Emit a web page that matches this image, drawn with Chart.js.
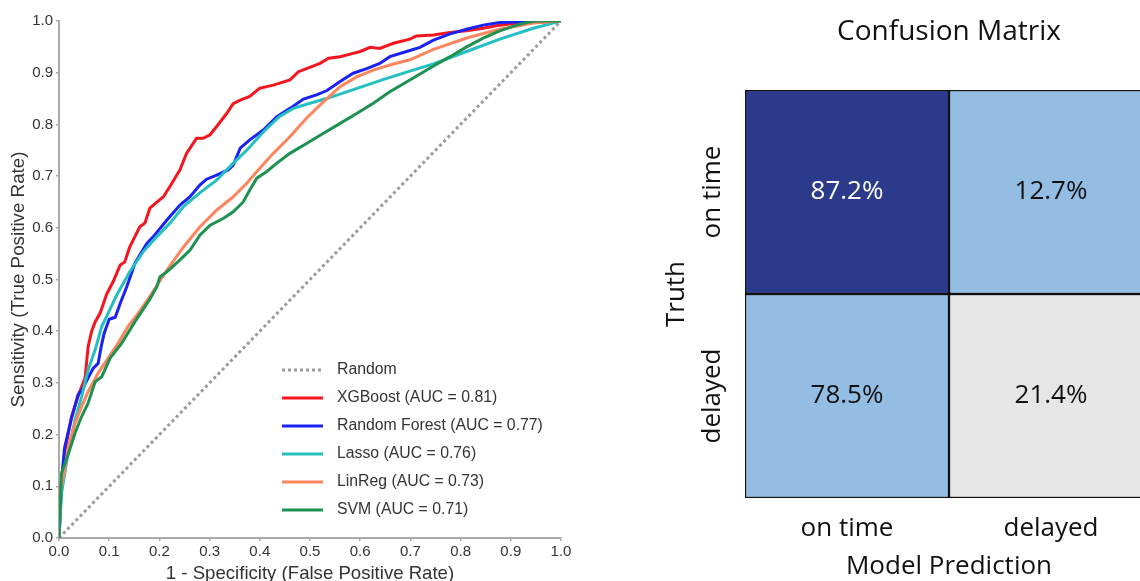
<!DOCTYPE html>
<html><head><meta charset="utf-8">
<script src="https://cdn.jsdelivr.net/npm/chart.js@4/dist/chart.umd.min.js"></script>
<style>
html,body{margin:0;padding:0;background:#fff;overflow:hidden;width:1140px;height:581px;position:relative;}
#roc{position:absolute;left:0;top:0;}
#cm{position:absolute;left:640px;top:0;}
</style></head><body>
<canvas id="roc" width="600" height="600"></canvas>
<canvas id="cm" width="560" height="600"></canvas>
<script>
// ---------- ROC data: [false positive rate, true positive rate] ----------
const randomRoc = [[0,0],[1,1]];
const xgboostRoc = [[0,0],[.004,.100],[.012,.170],[.025,.235],[.040,.280],[.052,.310],[.058,.370],[.065,.400],[.072,.418],[.082,.435],[.095,.472],[.108,.496],[.122,.528],[.131,.534],[.141,.563],[.161,.602],[.171,.609],[.181,.638],[.198,.652],[.208,.660],[.221,.680],[.241,.712],[.254,.744],[.274,.773],[.287,.773],[.301,.780],[.314,.796],[.334,.821],[.347,.840],[.361,.847],[.380,.854],[.400,.870],[.414,.873],[.427,.876],[.460,.886],[.477,.902],[.493,.908],[.520,.918],[.537,.928],[.560,.931],[.580,.936],[.600,.941],[.620,.949],[.639,.947],[.666,.957],[.699,.965],[.712,.971],[.746,.973],[.779,.978],[.812,.981],[.845,.986],[.878,.992],[.912,.996],[.945,.997],[1,1]];
const randomForestRoc = [[0,0],[.006,.120],[.011,.174],[.024,.228],[.038,.277],[.048,.290],[.058,.310],[.068,.328],[.078,.338],[.084,.370],[.090,.396],[.100,.423],[.112,.427],[.122,.454],[.135,.486],[.151,.531],[.175,.570],[.188,.583],[.215,.615],[.241,.644],[.261,.660],[.281,.683],[.294,.694],[.314,.702],[.337,.712],[.347,.721],[.361,.754],[.380,.770],[.407,.789],[.434,.815],[.460,.831],[.487,.849],[.513,.857],[.533,.865],[.560,.883],[.586,.899],[.613,.908],[.639,.918],[.659,.931],[.699,.943],[.719,.949],[.746,.963],[.779,.975],[.812,.984],[.845,.992],[.878,.997],[.912,.998],[1,1]];
const lassoRoc = [[0,0],[.005,.086],[.019,.170],[.032,.228],[.045,.273],[.058,.325],[.072,.364],[.085,.409],[.098,.435],[.115,.470],[.141,.515],[.168,.554],[.195,.583],[.221,.609],[.248,.641],[.281,.668],[.314,.692],[.347,.725],[.374,.750],[.387,.764],[.400,.778],[.414,.792],[.440,.816],[.467,.831],[.493,.839],[.533,.850],[.573,.863],[.613,.876],[.653,.889],[.699,.903],[.746,.917],[.812,.941],[.878,.965],[.945,.986],[1,1]];
const linRegRoc = [[0,0],[.003,.090],[.009,.119],[.019,.177],[.032,.222],[.045,.254],[.058,.283],[.078,.319],[.098,.348],[.118,.377],[.138,.410],[.158,.435],[.178,.463],[.201,.497],[.215,.518],[.248,.563],[.281,.602],[.314,.634],[.347,.660],[.374,.686],[.400,.715],[.427,.744],[.460,.776],[.493,.812],[.527,.844],[.560,.873],[.593,.892],[.626,.905],[.659,.915],[.699,.925],[.746,.945],[.812,.967],[.878,.984],[.945,.996],[1,1]];
const svmRoc = [[0,0],[.005,.125],[.019,.164],[.032,.203],[.045,.235],[.058,.261],[.072,.302],[.085,.312],[.102,.348],[.125,.377],[.151,.418],[.181,.462],[.195,.486],[.201,.505],[.215,.515],[.241,.538],[.261,.557],[.281,.586],[.301,.605],[.327,.618],[.347,.631],[.367,.650],[.380,.673],[.394,.696],[.414,.709],[.434,.725],[.460,.744],[.493,.763],[.527,.783],[.560,.802],[.593,.821],[.626,.841],[.659,.863],[.699,.886],[.746,.913],[.779,.931],[.812,.950],[.845,.967],[.878,.981],[.912,.992],[.932,.997],[.950,1],[1,1]];
const rocLabels = ['Random','XGBoost (AUC = 0.81)','Random Forest (AUC = 0.77)','Lasso (AUC = 0.76)','LinReg (AUC = 0.73)','SVM (AUC = 0.71)'];
const rocTickLabels = ['0.0','0.1','0.2','0.3','0.4','0.5','0.6','0.7','0.8','0.9','1.0'];

// ---------- Confusion matrix data (rows = truth, columns = prediction) ----------
const predictionLabels = ['on time','delayed'];
const truthLabels = ['on time','delayed'];
const onTimeRow = [87.2, 12.7];
const delayedRow = [78.5, 21.4];

const SANS = '"Liberation Sans",Arial,sans-serif';
const OPEN = '"Open Sans","Noto Sans",sans-serif';

const rocSeries = [randomRoc, xgboostRoc, randomForestRoc, lassoRoc, linRegRoc, svmRoc];
const rocColors = ['#9b9b9b','#f4151f','#1a22f2','#24bfc1','#fb855f','#1c9150'];

const rocLegend = {
  id:'rocLegend',
  afterDatasetsDraw(chart){
    const ctx = chart.ctx;
    const x0 = 282, x1 = 323, tx = 337, y0 = 370, dy = 28;
    chart.data.datasets.forEach((ds,i)=>{
      const y = y0 + i*dy;
      ctx.save();
      ctx.strokeStyle = ds.borderColor; ctx.lineWidth = 3; ctx.lineCap='butt';
      ctx.setLineDash(ds.borderDash || []);
      ctx.beginPath(); ctx.moveTo(x0,y); ctx.lineTo(x1,y); ctx.stroke();
      ctx.setLineDash([]);
      ctx.fillStyle = '#333'; ctx.font = '15.8px ' + SANS;
      ctx.textBaseline = 'middle'; ctx.textAlign = 'left';
      ctx.fillText(ds.label, tx, y);
      ctx.restore();
    });
  }
};

new Chart(document.getElementById('roc'), {
  type:'scatter',
  data:{
    datasets: rocSeries.map((pts,i)=>({
      label: rocLabels[i],
      data: pts.map(p=>({x:p[0], y:p[1]})),
      showLine:true,
      borderColor: rocColors[i],
      backgroundColor: rocColors[i],
      borderWidth:3,
      borderDash: i===0 ? [3,3] : [],
      pointRadius:0,
      tension:0,
      order: 10 - i
    }))
  },
  options:{
    responsive:false, animation:false,
    layout:{padding:{left:8, right:39, top:21, bottom:17}},
    plugins:{legend:{display:false}, tooltip:{enabled:false}},
    scales:{
      x:{type:'linear', min:0, max:1,
        ticks:{stepSize:0.1, autoSkip:false, maxRotation:0, callback:v=>rocTickLabels[Math.round(v*10)], font:{family:SANS,size:15,lineHeight:1}, color:'#333', padding:3.5},
        grid:{drawOnChartArea:false, drawTicks:true, tickLength:3, color:'#aaa', lineWidth:1.5},
        border:{color:'#aaa', width:2},
        title:{display:true, text:'1 - Specificity (False Positive Rate)', font:{family:SANS,size:18.6,lineHeight:1}, color:'#333', padding:0},
        afterFit(s){ s.height = 45; }
      },
      y:{type:'linear', min:0, max:1,
        ticks:{stepSize:0.1, autoSkip:false, callback:v=>rocTickLabels[Math.round(v*10)], font:{family:SANS,size:15,lineHeight:1}, color:'#333', padding:3},
        grid:{drawOnChartArea:false, drawTicks:true, tickLength:3, color:'#aaa', lineWidth:1.5},
        border:{color:'#aaa', width:2},
        title:{display:true, text:'Sensitivity (True Positive Rate)', font:{family:SANS,size:18.8,lineHeight:1.2}, color:'#333', padding:{top:0,bottom:0}},
        afterFit(s){ s.width = 51; }
      }
    }
  },
  plugins:[rocLegend]
});

// ---------- Confusion matrix ----------
const cellText = {
  id:'cellText',
  afterDatasetsDraw(chart){
    const ctx = chart.ctx;
    chart.data.datasets.forEach((ds,di)=>{
      const meta = chart.getDatasetMeta(di);
      meta.data.forEach((el,j)=>{
        ctx.save();
        ctx.font = '26px ' + OPEN;
        ctx.fillStyle = ds.textColor[j];
        ctx.textAlign = 'center'; ctx.textBaseline = 'middle';
        ctx.fillText(ds.values[j].toFixed(1) + '%', el.x, (el.y + el.base)/2);
        ctx.restore();
      });
    });
  }
};
const rowLabels = {
  id:'rowLabels',
  afterDraw(chart){
    const ctx = chart.ctx, ys = chart.scales.y;
    const x = chart.chartArea.left - 32;
    truthLabels.forEach((lab,i)=>{
      const y = ys.getPixelForValue(truthLabels.length - i - 0.5);
      ctx.save();
      ctx.translate(x, y); ctx.rotate(-Math.PI/2);
      ctx.font = '26px ' + OPEN; ctx.fillStyle = '#111';
      ctx.textAlign = 'center'; ctx.textBaseline = 'middle';
      ctx.fillText(lab, 0, 0);
      ctx.restore();
    });
  }
};

new Chart(document.getElementById('cm'), {
  type:'bar',
  data:{
    labels: predictionLabels,
    datasets:[
      {label:truthLabels[1], data: predictionLabels.map(()=>1), values: delayedRow,
       backgroundColor:['#93bde3','#e6e6e6'], textColor:['#111','#111']},
      {label:truthLabels[0], data: predictionLabels.map(()=>1), values: onTimeRow,
       backgroundColor:['#2b3a8b','#93bde3'], textColor:['#ffffff','#111']}
    ]
  },
  options:{
    responsive:false, animation:false,
    layout:{padding:{left:21.4, right:47, top:0, bottom:17.4}},
    datasets:{bar:{barPercentage:1, categoryPercentage:1, borderColor:'#111', borderWidth:1.5, borderSkipped:false}},
    plugins:{
      legend:{display:false}, tooltip:{enabled:false},
      title:{display:true, text:'Confusion Matrix', fullSize:false, color:'#111',
        font:{family:OPEN, size:28, weight:'normal', lineHeight:1.2}, padding:{top:15, bottom:41.4}}
    },
    scales:{
      x:{stacked:true, grid:{display:false}, border:{display:false},
        ticks:{font:{family:OPEN,size:26,lineHeight:1.2}, color:'#111', padding:7.4},
        title:{display:true, text:'Model Prediction', font:{family:OPEN,size:26,lineHeight:1.2}, color:'#111', padding:{top:6.8,bottom:0}},
        afterFit(s){ s.height = 84.6; }
      },
      y:{stacked:true, min:0, max:2, grid:{display:false}, border:{display:false},
        ticks:{display:false},
        title:{display:true, text:'Truth', font:{family:OPEN,size:26,lineHeight:1.2}, color:'#111', padding:{top:0,bottom:0}},
        afterFit(s){ s.width = 83.6; }
      }
    }
  },
  plugins:[cellText,rowLabels]
});
</script>
</body></html>
